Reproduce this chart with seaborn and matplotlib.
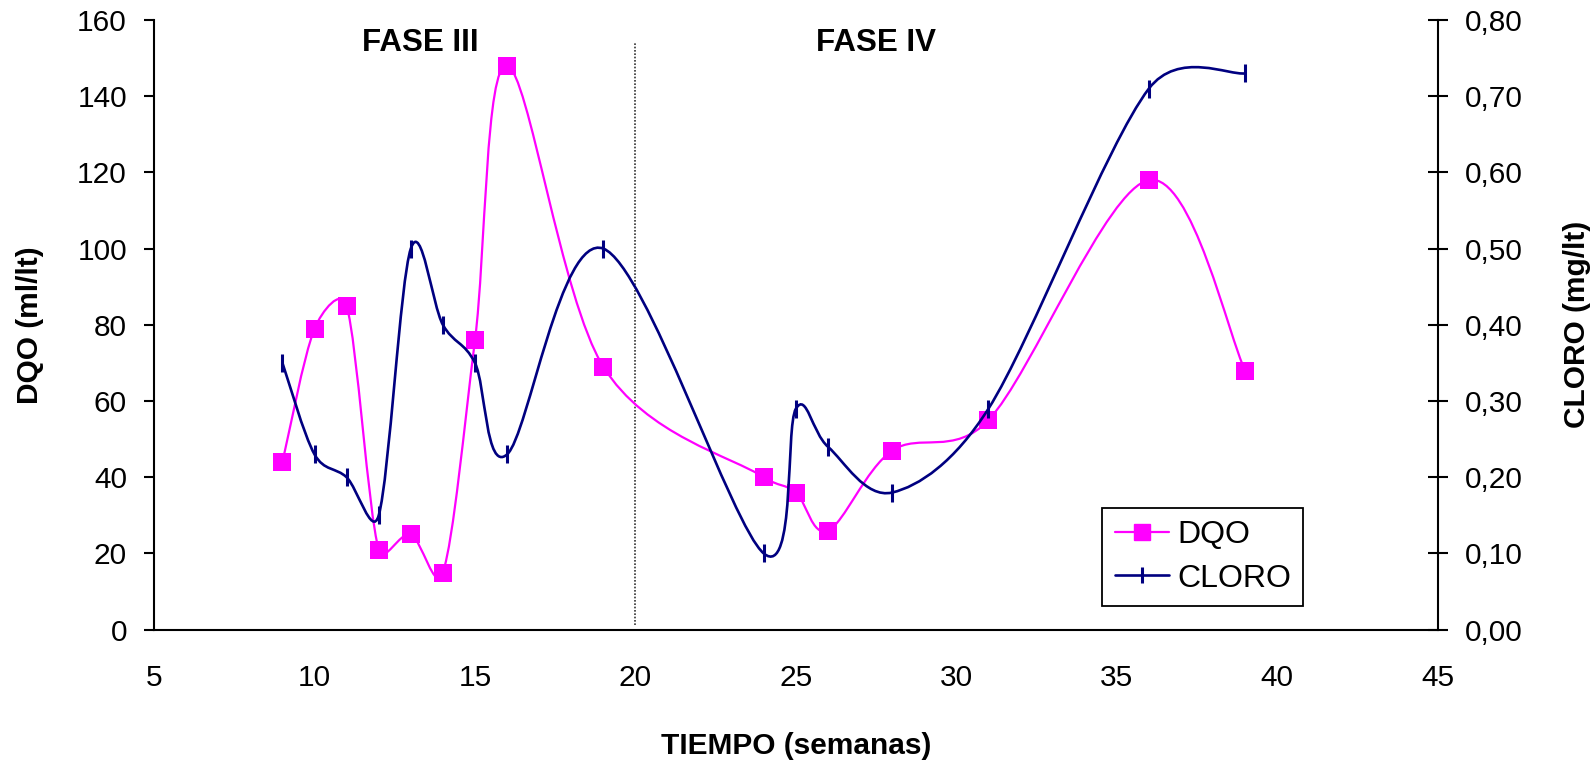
import numpy as np
import pandas as pd
import matplotlib
matplotlib.use("Agg")
import matplotlib.pyplot as plt
import seaborn as sns
from matplotlib.path import Path
from matplotlib.patches import PathPatch
from matplotlib.lines import Line2D
from matplotlib.ticker import FuncFormatter, MultipleLocator

# Weekly measurements
semanas = [9, 10, 11, 12, 13, 14, 15, 16, 19, 24, 25, 26, 28, 31, 36, 39]
dqo = [44, 79, 85, 21, 25, 15, 76, 148, 69, 40, 36, 26, 47, 55, 118, 68]
cloro = [0.35, 0.23, 0.20, 0.15, 0.50, 0.40, 0.35, 0.23, 0.50,
         0.10, 0.29, 0.24, 0.18, 0.29, 0.71, 0.73]

# Phase annotations
fases = ["FASE III", "FASE IV"]
fase_x = [13.3, 27.5]
limite_fase = 20

MAGENTA = "#FF00FF"
NAVY = "#000080"

sns.set_style("white")
plt.rcParams["font.family"] = ["Liberation Sans", "DejaVu Sans"]
plt.rcParams["text.color"] = "black"
plt.rcParams["axes.labelcolor"] = "black"

df = pd.DataFrame({"semana": semanas, "dqo": dqo, "cloro": cloro})


def smooth_path(axis, x, y):
    """Piecewise cubic Bezier through the points, with Catmull-Rom tangents
    (computed in screen space) limited to half of each segment's length."""
    pts = axis.transData.transform(np.column_stack([x, y]).astype(float))
    n = len(pts)
    verts = [pts[0]]
    codes = [Path.MOVETO]

    def tangent(i):
        a = pts[max(i - 1, 0)]
        b = pts[min(i + 1, n - 1)]
        return (b - a) / 6.0

    for i in range(n - 1):
        p1, p2 = pts[i], pts[i + 1]
        seg = np.hypot(*(p2 - p1))
        t1, t2 = tangent(i), tangent(i + 1)
        l1, l2 = np.hypot(*t1), np.hypot(*t2)
        if l1 > 0.5 * seg:
            t1 = t1 * (0.5 * seg / l1)
        if l2 > 0.5 * seg:
            t2 = t2 * (0.5 * seg / l2)
        verts += [p1 + t1, p2 - t2, p2]
        codes += [Path.CURVE4] * 3
    data_verts = axis.transData.inverted().transform(np.array(verts))
    return Path(data_verts, codes)


fig = plt.figure(figsize=(15.95, 7.63), dpi=100)
ax = fig.add_axes([0.0966, 0.1747, 0.8048, 0.7991])
ax2 = ax.twinx()

# Axis limits and ticks
ax.set_xlim(5, 45)
ax.set_ylim(0, 160)
ax2.set_ylim(0, 0.8)
ax.xaxis.set_major_locator(MultipleLocator(5))
ax.yaxis.set_major_locator(MultipleLocator(20))
ax2.yaxis.set_major_locator(MultipleLocator(0.1))
ax2.yaxis.set_major_formatter(FuncFormatter(lambda v, _: f"{v:.2f}".replace(".", ",")))

# DQO on the left axis
ax.add_patch(PathPatch(smooth_path(ax, df["semana"], df["dqo"]), facecolor="none",
                       edgecolor=MAGENTA, lw=1.6, zorder=2))
sns.scatterplot(data=df, x="semana", y="dqo", ax=ax, marker="s", s=160,
                color=MAGENTA, edgecolor=MAGENTA, linewidth=0, zorder=3, legend=False)

# CLORO on the right axis
ax2.add_patch(PathPatch(smooth_path(ax2, df["semana"], df["cloro"]), facecolor="none",
                        edgecolor=NAVY, lw=1.9, zorder=2))
sns.scatterplot(data=df, x="semana", y="cloro", ax=ax2, marker="|", s=160,
                color=NAVY, linewidth=2.2, zorder=3, legend=False)

ax.set_xlim(5, 45)
ax.set_ylim(0, 160)
ax2.set_ylim(0, 0.8)

for a in (ax, ax2):
    a.spines["top"].set_visible(False)
    for s in a.spines.values():
        s.set_linewidth(1.5)
        s.set_color("black")
ax.spines["right"].set_visible(False)
ax2.spines["left"].set_visible(False)
ax2.spines["bottom"].set_visible(False)

ax.tick_params(axis="both", direction="out", length=7.5, width=1.5,
               labelsize=21.5, colors="black", labelcolor="black")
ax.tick_params(axis="y", pad=12)
ax.tick_params(axis="x", pad=17)
ax2.tick_params(axis="y", direction="inout", length=15, width=1.5,
                labelsize=21.5, colors="black", labelcolor="black", pad=12)

ax.set_xlabel("TIEMPO (semanas)", fontsize=21.5, fontweight="bold", labelpad=29)
ax.set_ylabel("DQO (ml/lt)", fontsize=21.5, fontweight="bold", labelpad=24)
ax2.set_ylabel("CLORO (mg/lt)", fontsize=21.5, fontweight="bold", labelpad=29)

# Phase boundary and phase labels
ax.vlines(limite_fase, 1.2, 154, colors="#333333", linestyles=(0, (1, 1)), lw=1.2, zorder=1)
for nombre, xf in zip(fases, fase_x):
    ax.text(xf, 154, nombre, ha="center", va="center", fontsize=22.5,
            fontweight="bold")

handles = [
    Line2D([], [], color=MAGENTA, lw=1.6, marker="s", markersize=11,
           markerfacecolor=MAGENTA, markeredgecolor=MAGENTA),
    Line2D([], [], color=NAVY, lw=1.9, marker="|", markersize=12,
           markeredgewidth=2.2),
]
leg = fig.legend(handles, ["DQO", "CLORO"], loc="center",
                 bbox_to_anchor=(0.7542, 0.2701), fontsize=23, frameon=True,
                 fancybox=False, framealpha=1, edgecolor="black",
                 handlelength=1.72, handletextpad=0.25, borderpad=0.38,
                 labelspacing=0.42, borderaxespad=0)
leg.get_frame().set_linewidth(1.3)

ax.set_zorder(ax2.get_zorder() - 1)
ax2.patch.set_visible(False)

fig.savefig("out.png", dpi=100)
